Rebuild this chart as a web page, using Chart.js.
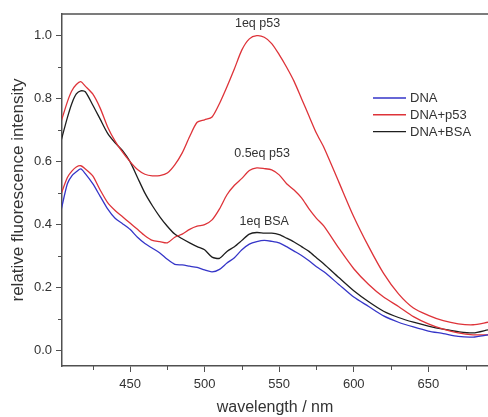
<!DOCTYPE html>
<html>
<head>
<meta charset="utf-8">
<script src="https://cdn.jsdelivr.net/npm/chart.js@4"></script>
<style>
  html, body { margin: 0; padding: 0; background: #fff; }
  #wrap { width: 488px; height: 417px; }
</style>
</head>
<body>
<div id="wrap"><canvas id="myChart" width="488" height="417"></canvas></div>
<script>
// wavelengths (nm) the curves were read at
const wavelengths = [404, 408, 411, 414, 417, 420, 425, 430, 435, 440, 445, 450, 455, 460, 465, 470, 475, 480, 485, 490,
  495, 500, 505, 510, 515, 520, 525, 530, 535, 540, 545, 550, 555, 560, 565, 570, 575, 580, 590, 600,
  610, 620, 630, 640, 650, 660, 670, 680, 690]

const dna = [0.45, 0.53, 0.555, 0.568, 0.577, 0.562, 0.53, 0.49, 0.45, 0.42, 0.403, 0.385, 0.36, 0.34, 0.325, 0.31, 0.29, 0.274, 0.272, 0.268,
  0.264, 0.256, 0.25, 0.258, 0.278, 0.295, 0.32, 0.338, 0.346, 0.35, 0.347, 0.342, 0.33, 0.316, 0.302, 0.285, 0.266, 0.25, 0.21, 0.17,
  0.14, 0.11, 0.09, 0.075, 0.062, 0.054, 0.045, 0.043, 0.05]

const p53Full = [0.73, 0.79, 0.825, 0.845, 0.854, 0.84, 0.815, 0.77, 0.71, 0.665, 0.63, 0.60, 0.575, 0.56, 0.555, 0.556, 0.564, 0.59, 0.628, 0.68,
  0.725, 0.733, 0.742, 0.785, 0.838, 0.895, 0.955, 0.99, 1.0, 0.995, 0.975, 0.94, 0.90, 0.855, 0.80, 0.745, 0.69, 0.645, 0.535, 0.425,
  0.33, 0.245, 0.18, 0.135, 0.112, 0.095, 0.085, 0.082, 0.09]

const p53Half = [0.50, 0.55, 0.57, 0.583, 0.587, 0.577, 0.555, 0.51, 0.47, 0.445, 0.425, 0.405, 0.385, 0.365, 0.35, 0.346, 0.342, 0.36, 0.37, 0.385,
  0.395, 0.40, 0.415, 0.45, 0.495, 0.525, 0.547, 0.572, 0.58, 0.578, 0.574, 0.558, 0.53, 0.51, 0.485, 0.45, 0.42, 0.395, 0.325, 0.26,
  0.21, 0.17, 0.14, 0.108, 0.085, 0.068, 0.056, 0.05, 0.05]

const bsa = [0.67, 0.74, 0.785, 0.815, 0.825, 0.822, 0.78, 0.735, 0.69, 0.66, 0.635, 0.60, 0.55, 0.50, 0.46, 0.425, 0.395, 0.37, 0.355, 0.342,
  0.33, 0.32, 0.297, 0.293, 0.315, 0.33, 0.35, 0.37, 0.375, 0.373, 0.373, 0.368, 0.357, 0.345, 0.33, 0.315, 0.295, 0.275, 0.232, 0.19,
  0.155, 0.125, 0.105, 0.09, 0.078, 0.068, 0.06, 0.056, 0.066]

const legendLabels = ['DNA', 'DNA+p53', 'DNA+BSA']
const noteLabels = ['1eq p53', '0.5eq p53', '1eq BSA']

const xMajor = [450, 500, 550, 600, 650]
const xMinor = [425, 475, 525, 575, 625, 675]
const yMajor = [0.0, 0.2, 0.4, 0.6, 0.8, 1.0]
const yMinor = [0.1, 0.3, 0.5, 0.7, 0.9]

const blue = '#3535c8'
const red = '#de3339'
const black = '#1e1e1e'
const axisColor = '#505050'
const textColor = '#333'
const fontFamily = '"Liberation Sans", Arial, sans-serif'

// where the three labels sit, in data units
const noteAnchors = [[535.5, 1.04], [538.5, 0.625], [540, 0.41]]

function series(values) {
  return values.map((v, i) => ({ x: wavelengths[i], y: v }))
}

function lineSet(label, values, color) {
  return {
    label: label,
    data: series(values),
    borderColor: color,
    borderWidth: 1.3,
    pointRadius: 0,
    tension: 0.25,
    fill: false
  }
}

const extras = {
  id: 'extras',
  afterDraw(chart) {
    const ctx = chart.ctx
    const { left, right, top, bottom } = chart.chartArea
    const xs = chart.scales.x
    const ys = chart.scales.y
    ctx.save()

    // top frame line
    ctx.strokeStyle = axisColor
    ctx.lineWidth = 1.5
    ctx.beginPath()
    ctx.moveTo(left - 0.75, top)
    ctx.lineTo(right, top)
    ctx.stroke()

    // short minor ticks
    ctx.lineWidth = 1
    ctx.beginPath()
    xMinor.forEach(v => {
      const px = Math.round(xs.getPixelForValue(v)) + 0.5
      ctx.moveTo(px, bottom)
      ctx.lineTo(px, bottom + 4)
    })
    yMinor.forEach(v => {
      const py = Math.round(ys.getPixelForValue(v)) + 0.5
      ctx.moveTo(left, py)
      ctx.lineTo(left - 4, py)
    })
    ctx.stroke()

    // peak labels
    ctx.fillStyle = textColor
    ctx.font = '12.5px ' + fontFamily
    ctx.textAlign = 'center'
    ctx.textBaseline = 'middle'
    noteLabels.forEach((t, i) => {
      ctx.fillText(t, xs.getPixelForValue(noteAnchors[i][0]), ys.getPixelForValue(noteAnchors[i][1]))
    })

    // legend
    const colors = [blue, red, black]
    ctx.font = '13px ' + fontFamily
    ctx.textAlign = 'left'
    legendLabels.forEach((t, i) => {
      const yy = 98 + i * 16.8
      ctx.strokeStyle = colors[i]
      ctx.lineWidth = 1.4
      ctx.beginPath()
      ctx.moveTo(373, yy)
      ctx.lineTo(406, yy)
      ctx.stroke()
      ctx.fillText(t, 410, yy + 0.5)
    })
    ctx.restore()
  }
}

function drawChart() {
  const ctx = document.getElementById('myChart').getContext('2d')

  const myChart = new Chart(ctx, {
    type: 'line',
    data: {
      datasets: [
        lineSet('DNA', dna, blue),
        lineSet('DNA+p53', p53Full, red),
        lineSet('DNA+p53 0.5eq', p53Half, red),
        lineSet('DNA+BSA', bsa, black)
      ]
    },
    options: {
      responsive: false,
      animation: false,
      layout: { padding: { top: 14, right: 0, left: 0, bottom: 0 } },
      plugins: {
        legend: { display: false },
        tooltip: { enabled: false }
      },
      scales: {
        x: {
          type: 'linear',
          min: 404.4,
          max: 690,
          afterFit: s => { s.height = 51 },
          afterBuildTicks: s => {
            s.ticks = xMajor.concat(xMinor).sort((a, b) => a - b).map(v => ({ value: v }))
          },
          ticks: {
            color: textColor,
            font: { family: fontFamily, size: 13 },
            padding: 5,
            maxRotation: 0,
            autoSkip: false,
            callback: v => xMajor.includes(v) ? String(v) : ''
          },
          grid: {
            drawOnChartArea: false,
            tickLength: 6,
            tickWidth: 1,
            tickColor: c => (c.tick && xMajor.includes(c.tick.value)) ? axisColor : 'rgba(0,0,0,0)'
          },
          border: { color: axisColor, width: 1.5 },
          title: {
            display: true,
            text: 'wavelength / nm',
            color: textColor,
            font: { family: fontFamily, size: 16 },
            padding: { top: -1, bottom: 0 }
          }
        },
        y: {
          min: -0.049,
          max: 1.069,
          afterFit: s => { s.width = 62 },
          afterBuildTicks: s => {
            s.ticks = yMajor.concat(yMinor).sort((a, b) => a - b).map(v => ({ value: v }))
          },
          ticks: {
            color: textColor,
            font: { family: fontFamily, size: 13 },
            padding: 4,
            autoSkip: false,
            callback: v => yMajor.some(m => Math.abs(m - v) < 1e-6) ? v.toFixed(1) : ''
          },
          grid: {
            drawOnChartArea: false,
            tickLength: 6,
            tickWidth: 1,
            tickColor: c => (c.tick && yMajor.some(m => Math.abs(m - c.tick.value) < 1e-6)) ? axisColor : 'rgba(0,0,0,0)'
          },
          border: { color: axisColor, width: 1.5 },
          title: {
            display: true,
            text: 'relative fluorescence intensity',
            color: textColor,
            font: { family: fontFamily, size: 17 },
            padding: { top: 8, bottom: 0 }
          }
        }
      }
    },
    plugins: [extras]
  })
}

window.onload = () => {
  drawChart()
}
</script>
</body>
</html>
